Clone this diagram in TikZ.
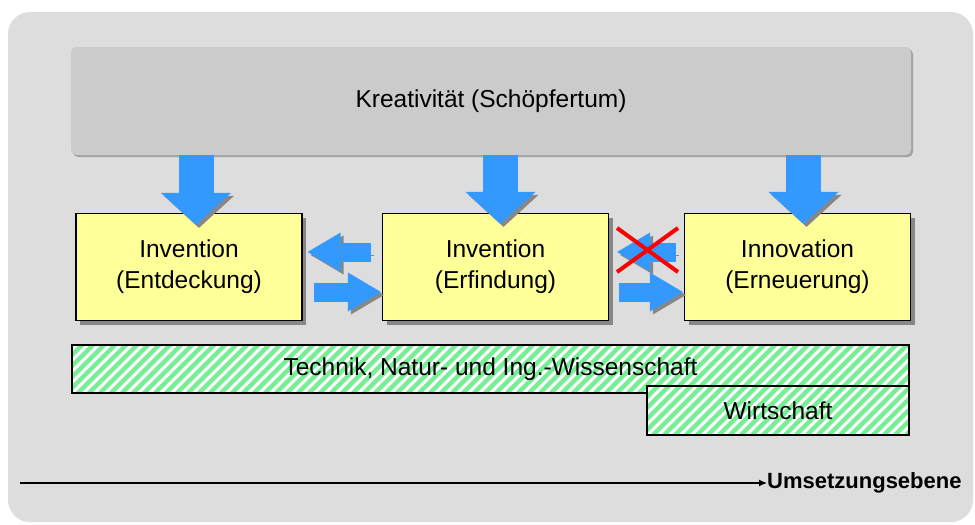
\documentclass[tikz,border=0pt]{standalone}
\usepackage{fontspec}
\setmainfont{Liberation Sans}
\usetikzlibrary{arrows.meta,calc}

\definecolor{bgouter}{HTML}{DDDDDD}
\definecolor{kregray}{HTML}{CBCBCB}
\definecolor{kreshadow}{HTML}{A2A2A2}
\definecolor{boxyellow}{HTML}{FFFF99}
\definecolor{arrowblue}{HTML}{3399FF}
\definecolor{hatchgreen}{HTML}{77EE95}
\definecolor{shadowgray}{HTML}{878787}

\tikzset{
  boxfont/.style={font=\fontsize{24.5}{31}\selectfont},
  krebox/.style={boxfont, fill=kregray, rounded corners=5pt, minimum width=840pt, minimum height=108pt,
    preaction={fill=kreshadow, transform canvas={shift={(2pt,-2pt)}}}},
  yellowbox/.style={boxfont, draw=black, line width=1.2pt, fill=boxyellow, align=center,
    minimum width=226pt, minimum height=107pt, inner sep=0pt,
    preaction={fill=shadowgray, transform canvas={shift={(4pt,-4pt)}}}},
  hatchbar/.style={boxfont, draw=black, line width=1.2pt, fill=white, inner sep=0pt,
    path picture={
      \foreach \k in {-60,-49,...,900}
        \draw[hatchgreen, line width=4.5pt] ([xshift=\k pt]path picture bounding box.south west) -- ++(80pt,80pt);
    }},
  bigdown/.style={arrowblue, line width=35pt, -{Triangle[width=70pt,length=32pt,line width=0pt]},
    preaction={draw=shadowgray, transform canvas={shift={(3pt,-3pt)}}}},
  sidearrow/.style={arrowblue, line width=19pt, -{Triangle[width=39pt,length=33pt,line width=0pt]},
    preaction={draw=shadowgray, transform canvas={shift={(3pt,-3pt)}}}},
}

\begin{document}
\begin{tikzpicture}[x=1pt, y=-1pt]
    % Background
    \fill[white] (0,0) rectangle (975,525);
    \useasboundingbox (0,0) rectangle (975,525);
    \fill[bgouter, rounded corners=22pt] (8,12) rectangle (973,522);

    % Top box
    \node[krebox] (kre) at (491,101) {Kreativität (Schöpfertum)};

    % Three stages
    \node[yellowbox] (inv1) at (189,267) {Invention\\(Entdeckung)};
    \node[yellowbox] (inv2) at (495.5,267) {Invention\\(Erfindung)};
    \node[yellowbox] (inn) at (797.5,267) {Innovation\\(Erneuerung)};

    % Arrows from the top box
    \draw[bigdown] ($(inv1.north |- kre.south)+(7pt,0pt)$) -- ($(inv1.north)+(7pt,-12pt)$);
    \draw[bigdown] ($(inv2.north |- kre.south)+(5pt,0pt)$) -- ($(inv2.north)+(5pt,-11pt)$);
    \draw[bigdown] ($(inn.north |- kre.south)+(6pt,0pt)$) -- ($(inn.north)+(6pt,-11pt)$);

    % Arrows between the stages
    \draw[sidearrow] ($(inv2.west)+(-11pt,15pt)$) -- ($(inv1.east)+(5pt,15pt)$);
    \draw[sidearrow] ($(inv1.east)+(11pt,-25pt)$) -- ($(inv2.west)+(-1pt,-25pt)$);
    \draw[sidearrow] ($(inn.west)+(-8pt,15pt)$) -- ($(inv2.east)+(8pt,15pt)$);
    \draw[sidearrow] ($(inv2.east)+(10pt,-25pt)$) -- ($(inn.west)+(-1pt,-25pt)$);

    % Crossed out
    \draw[red, line width=4pt] (617,228) -- (678,272);
    \draw[red, line width=4pt] (678,228) -- (617,272);

    % Fields
    \node[hatchbar, minimum width=837pt, minimum height=48pt] (tech) at (490.5,369) {Technik, Natur- und Ing.-Wissenschaft};
    \node[hatchbar, minimum width=262pt, minimum height=49pt] (wirt) at (778,410.5) {Wirtschaft};

    % Axis
    \coordinate (axisstart) at (20,483);
    \node[anchor=west, inner sep=0pt, font=\bfseries\fontsize{22}{24}\selectfont] (ebene) at (767,483) {Umsetzungsebene};
    \draw[line width=1.2pt, -{Latex[length=8pt,width=7pt]}] (axisstart) -- (ebene.west);
\end{tikzpicture}
\end{document}
